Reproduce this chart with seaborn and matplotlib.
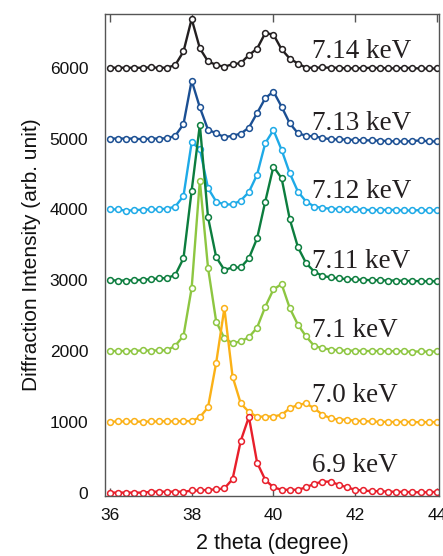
import numpy as np
import pandas as pd
import matplotlib
matplotlib.use("Agg")
import matplotlib.pyplot as plt
import seaborn as sns

# 2theta positions (degree), step 0.2 from 36 to 44
two_theta = [round(36 + 0.2 * i, 1) for i in range(41)]

energies = ["7.14 keV", "7.13 keV", "7.12 keV", "7.11 keV", "7.1 keV", "7.0 keV", "6.9 keV"]
colors = ["#231f20", "#1b4f93", "#1eaae7", "#0c7d3e", "#8dc641", "#fbb117", "#e81f2b"]

int_714 = [6000, 6000, 6000, 6000, 6000, 6005, 6000, 6000, 6040, 6230, 6690,
           6275, 6090, 6040, 6015, 6050, 6065, 6180, 6270, 6490, 6470,
           6260, 6130, 6060, 6000, 6000, 6005, 6000, 6000, 5990, 5995,
           5995, 6000, 5995, 5995, 5990, 6000, 5995, 5990, 5990, 5990]
int_713 = [5000, 5000, 5000, 5000, 4990, 5000, 5000, 5005, 5040, 5205, 5820,
           5440, 5125, 5075, 5020, 5040, 5070, 5155, 5360, 5570, 5665,
           5450, 5215, 5075, 5040, 5030, 5010, 4990, 4990, 4985, 4980,
           4975, 4975, 4970, 4965, 4960, 4960, 4965, 4975, 4960, 4960]
int_712 = [4000, 4000, 3980, 3990, 3995, 4000, 4000, 4010, 4040, 4190, 4945,
           4855, 4300, 4110, 4070, 4070, 4125, 4245, 4490, 4935, 5120,
           4840, 4510, 4250, 4110, 4040, 4020, 4010, 4005, 4000, 4000,
           3995, 3990, 3990, 3995, 3990, 3985, 3985, 3990, 3985, 3990]
int_711 = [3000, 2995, 2995, 3000, 3005, 3015, 3025, 3030, 3075, 3310, 4265,
           5195, 3890, 3325, 3145, 3180, 3180, 3310, 3590, 4110, 4605,
           4440, 3860, 3465, 3240, 3120, 3060, 3040, 3025, 3015, 3010,
           3005, 3000, 3000, 2995, 2995, 2990, 2990, 2985, 2985, 2985]
int_71 = [2000, 2000, 2000, 2000, 2010, 2005, 2010, 2010, 2075, 2215, 2890,
          4405, 3175, 2415, 2180, 2110, 2135, 2195, 2330, 2625, 2870,
          2945, 2605, 2370, 2205, 2070, 2040, 2020, 2010, 2005, 2005,
          2000, 2000, 2000, 1995, 2000, 1995, 1990, 1995, 1990, 1995]
int_70 = [1000, 1005, 1005, 1005, 1000, 1005, 1005, 1010, 1005, 1010, 1010,
          1065, 1205, 1835, 2605, 1640, 1260, 1140, 1070, 1075, 1075,
          1100, 1190, 1240, 1260, 1190, 1100, 1050, 1030, 1030, 1015,
          1010, 1005, 1000, 1000, 995, 1000, 995, 995, 995, 995]
int_69 = [0, 0, 0, 0, 0, 10, 15, 10, 15, 10, 30,
          30, 40, 45, 60, 190, 730, 1070, 425, 180, 75,
          40, 40, 40, 75, 125, 155, 155, 110, 75, 40,
          30, 20, 20, 15, 10, 10, 5, 5, 5, 10]

series = [int_714, int_713, int_712, int_711, int_71, int_70, int_69]
label_y = [6140, 5120, 4160, 3175, 2200, 1280, 290]
label_x = 40.95

rows = []
for name, vals in zip(energies, series):
    for x, v in zip(two_theta, vals):
        rows.append({"two_theta": x, "intensity": v, "energy": name})
df = pd.DataFrame(rows)

sns.set_theme(style="ticks")
plt.rcParams["font.family"] = ["Liberation Sans", "DejaVu Sans"]

fig = plt.figure(figsize=(4.43, 5.56), dpi=100)
ax = fig.add_axes([0.237, 0.108, 0.754, 0.867])

for name, col in zip(energies, colors):
    sub = df[df["energy"] == name]
    sns.lineplot(data=sub, x="two_theta", y="intensity", ax=ax, color=col,
                 linewidth=1.7, marker="o", markersize=4.2,
                 markerfacecolor="white", markeredgecolor=col,
                 markeredgewidth=1.1, legend=False)

for name, col, ly in zip(energies, colors, label_y):
    ax.text(label_x, ly, name, fontsize=19.5, family=["Liberation Serif", "DejaVu Serif"],
            color="#231f20", ha="left", va="baseline")

ax.set_xlim(35.88, 44.05)
ax.set_ylim(-47, 6761)
ax.set_xticks([36, 38, 40, 42, 44])
ax.set_yticks([0, 1000, 2000, 3000, 4000, 5000, 6000])
ax.tick_params(axis="x", direction="in", length=6, width=1, color="#555555",
               top=True, labelsize=12.5, pad=9, labelcolor="#111111")
ax.tick_params(axis="y", direction="in", length=0, labelsize=12.5, pad=12,
               labelcolor="#111111")
for s in ax.spines.values():
    s.set_color("#555555")
    s.set_linewidth(1.0)

ax.set_xlabel("2 theta (degree)", fontsize=15.5, color="#111111", labelpad=7)
ax.set_ylabel("Diffraction Intensity (arb. unit)", fontsize=15, color="#111111", labelpad=6)

fig.savefig("out.png", dpi=100)
